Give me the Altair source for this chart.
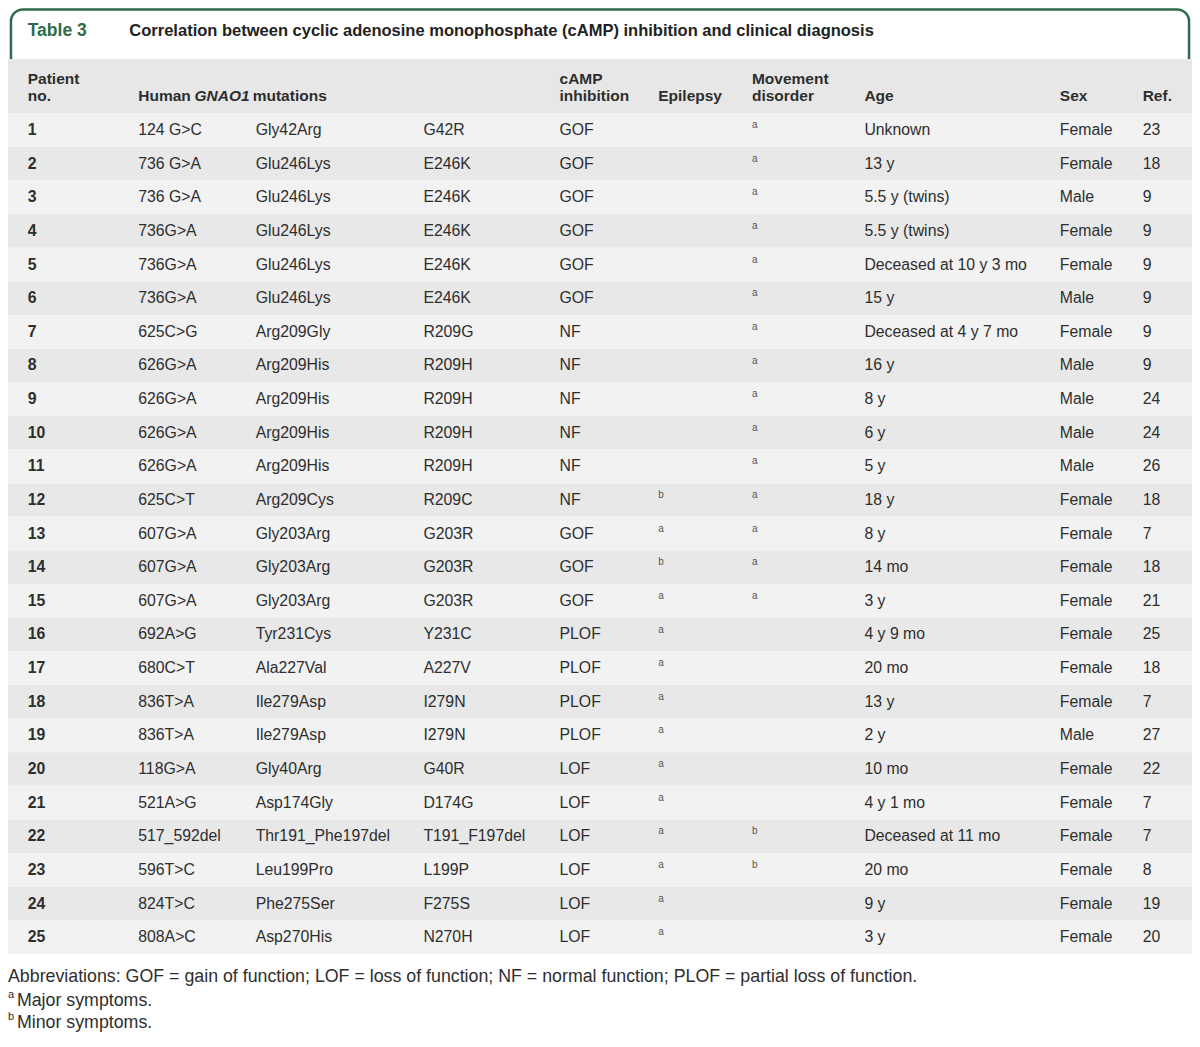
import altair as alt
import pandas as pd

# ---------------- data ----------------
patient_no = ["1", "2", "3", "4", "5", "6", "7", "8", "9", "10", "11", "12", "13",
              "14", "15", "16", "17", "18", "19", "20", "21", "22", "23", "24", "25"]
cdna = ["124 G>C", "736 G>A", "736 G>A", "736G>A", "736G>A", "736G>A", "625C>G",
        "626G>A", "626G>A", "626G>A", "626G>A", "625C>T", "607G>A", "607G>A",
        "607G>A", "692A>G", "680C>T", "836T>A", "836T>A", "118G>A", "521A>G",
        "517_592del", "596T>C", "824T>C", "808A>C"]
protein = ["Gly42Arg", "Glu246Lys", "Glu246Lys", "Glu246Lys", "Glu246Lys", "Glu246Lys",
           "Arg209Gly", "Arg209His", "Arg209His", "Arg209His", "Arg209His", "Arg209Cys",
           "Gly203Arg", "Gly203Arg", "Gly203Arg", "Tyr231Cys", "Ala227Val", "Ile279Asp",
           "Ile279Asp", "Gly40Arg", "Asp174Gly", "Thr191_Phe197del", "Leu199Pro",
           "Phe275Ser", "Asp270His"]
short = ["G42R", "E246K", "E246K", "E246K", "E246K", "E246K", "R209G", "R209H", "R209H",
         "R209H", "R209H", "R209C", "G203R", "G203R", "G203R", "Y231C", "A227V", "I279N",
         "I279N", "G40R", "D174G", "T191_F197del", "L199P", "F275S", "N270H"]
camp = ["GOF", "GOF", "GOF", "GOF", "GOF", "GOF", "NF", "NF", "NF", "NF", "NF", "NF",
        "GOF", "GOF", "GOF", "PLOF", "PLOF", "PLOF", "PLOF", "LOF", "LOF", "LOF", "LOF",
        "LOF", "LOF"]
epilepsy = ["", "", "", "", "", "", "", "", "", "", "", "b", "a", "b", "a", "a", "a",
            "a", "a", "a", "a", "a", "a", "a", "a"]
movement = ["a", "a", "a", "a", "a", "a", "a", "a", "a", "a", "a", "a", "a", "a", "a",
            "", "", "", "", "", "", "b", "b", "", ""]
age = ["Unknown", "13 y", "5.5 y (twins)", "5.5 y (twins)", "Deceased at 10 y 3 mo",
       "15 y", "Deceased at 4 y 7 mo", "16 y", "8 y", "6 y", "5 y", "18 y", "8 y",
       "14 mo", "3 y", "4 y 9 mo", "20 mo", "13 y", "2 y", "10 mo", "4 y 1 mo",
       "Deceased at 11 mo", "20 mo", "9 y", "3 y"]
sex = ["Female", "Female", "Male", "Female", "Female", "Male", "Female", "Male", "Male",
       "Male", "Male", "Female", "Female", "Female", "Female", "Female", "Female",
       "Female", "Male", "Female", "Female", "Female", "Female", "Female", "Female"]
ref = ["23", "18", "9", "9", "9", "9", "9", "9", "24", "24", "26", "18", "7", "18",
       "21", "25", "18", "7", "27", "22", "7", "7", "8", "19", "20"]

table_label = "Table 3"
title_text = "Correlation between cyclic adenosine monophosphate (cAMP) inhibition and clinical diagnosis"
footnote_abbrev = ("Abbreviations: GOF = gain of function; LOF = loss of function; "
                   "NF = normal function; PLOF = partial loss of function.")
footnote_a = "Major symptoms."
footnote_b = "Minor symptoms."

# ---------------- layout (reference pixel space) ----------------
REF_W, REF_H = 1200, 1047
W, H = 1184, 1025
FONT = "Liberation Sans"
GREEN = "#2f6b4a"
TEXT = "#2e2e2e"

col_x = {"no": 20, "cdna": 132, "prot": 251, "short": 421, "camp": 559,
         "epi": 659, "mov": 754, "age": 868, "sex": 1066, "ref": 1150}
row_top0 = 107.5
row_h = 34.35
header_top = 52
n_rows = len(patient_no)

xs = alt.Scale(domain=[0, REF_W], nice=False, zero=False)
ys = alt.Scale(domain=[0, REF_H], nice=False, zero=False, reverse=True)

def X(f="x"):
    return alt.X(f"{f}:Q", scale=xs, axis=None)

def Y(f="y"):
    return alt.Y(f"{f}:Q", scale=ys, axis=None)

# title box
box = pd.DataFrame([{"x": 3, "x2": 1197, "y": 1.5, "y2": 80}])
box_layer = alt.Chart(box).mark_rect(
    fill="white", stroke=GREEN, strokeWidth=2.5,
    cornerRadiusTopLeft=12, cornerRadiusTopRight=12
).encode(x=X(), x2="x2:Q", y=Y(), y2="y2:Q")

# header band
hb = pd.DataFrame([{"x": 0, "x2": REF_W, "y": header_top, "y2": row_top0}])
hb_layer = alt.Chart(hb).mark_rect(fill="#e6e7e6").encode(
    x=X(), x2="x2:Q", y=Y(), y2="y2:Q")

# row bands
bands = pd.DataFrame({
    "x": 0, "x2": REF_W,
    "y": [row_top0 + i * row_h for i in range(n_rows)],
    "y2": [row_top0 + (i + 1) * row_h for i in range(n_rows)],
    "parity": ["odd" if i % 2 == 0 else "even" for i in range(n_rows)],
})
band_layer = alt.Chart(bands).mark_rect().encode(
    x=X(), x2="x2:Q", y=Y(), y2="y2:Q",
    color=alt.Color("parity:N", scale=alt.Scale(domain=["odd", "even"],
                                                range=["#f2f2f2", "#e7e8e7"]),
                    legend=None))

# title texts
title_df = pd.DataFrame([
    {"x": 20, "y": 23.5, "t": table_label, "c": GREEN, "fs": 17.5},
    {"x": 123, "y": 23.5, "t": title_text, "c": "#222222", "fs": 16.5},
])
title_layer = alt.Chart(title_df).mark_text(
    align="left", baseline="middle", font=FONT, fontWeight="bold"
).encode(x=X(), y=Y(), text="t:N", color=alt.Color("c:N", scale=None),
         size=alt.Size("fs:Q", scale=None))

# header texts
hdr = pd.DataFrame([
    {"x": col_x["no"], "y": 73, "t": "Patient", "s": "normal"},
    {"x": col_x["no"], "y": 90, "t": "no.", "s": "normal"},
    {"x": col_x["cdna"], "y": 90, "t": "Human", "s": "normal"},
    {"x": col_x["cdna"] + 57, "y": 90, "t": "GNAO1", "s": "italic"},
    {"x": col_x["cdna"] + 116, "y": 90, "t": "mutations", "s": "normal"},
    {"x": col_x["camp"], "y": 73, "t": "cAMP", "s": "normal"},
    {"x": col_x["camp"], "y": 90, "t": "inhibition", "s": "normal"},
    {"x": col_x["epi"], "y": 90, "t": "Epilepsy", "s": "normal"},
    {"x": col_x["mov"], "y": 73, "t": "Movement", "s": "normal"},
    {"x": col_x["mov"], "y": 90, "t": "disorder", "s": "normal"},
    {"x": col_x["age"], "y": 90, "t": "Age", "s": "normal"},
    {"x": col_x["sex"], "y": 90, "t": "Sex", "s": "normal"},
    {"x": col_x["ref"], "y": 90, "t": "Ref.", "s": "normal"},
])
hdr_n = alt.Chart(hdr[hdr.s == "normal"]).mark_text(
    align="left", baseline="middle", font=FONT, fontSize=15.5, fontWeight="bold", color=TEXT
).encode(x=X(), y=Y(), text="t:N")
hdr_i = alt.Chart(hdr[hdr.s == "italic"]).mark_text(
    align="left", baseline="middle", font=FONT, fontSize=15.5, fontWeight="bold",
    fontStyle="italic", color=TEXT
).encode(x=X(), y=Y(), text="t:N")

# cell texts
cells = []
for i in range(n_rows):
    yc = row_top0 + (i + 0.5) * row_h
    for key, vals in [("cdna", cdna), ("prot", protein), ("short", short), ("camp", camp),
                      ("age", age), ("sex", sex), ("ref", ref)]:
        cells.append({"x": col_x[key], "y": yc, "t": vals[i]})
cells_df = pd.DataFrame(cells)
cell_layer = alt.Chart(cells_df).mark_text(
    align="left", baseline="middle", font=FONT, fontSize=15.8, color=TEXT
).encode(x=X(), y=Y(), text="t:N")

no_df = pd.DataFrame({"x": col_x["no"],
                      "y": [row_top0 + (i + 0.5) * row_h for i in range(n_rows)],
                      "t": patient_no})
no_layer = alt.Chart(no_df).mark_text(
    align="left", baseline="middle", font=FONT, fontSize=15.8, fontWeight="bold", color=TEXT
).encode(x=X(), y=Y(), text="t:N")

sups = []
for i in range(n_rows):
    yc = row_top0 + (i + 0.5) * row_h - 5
    if epilepsy[i]:
        sups.append({"x": col_x["epi"], "y": yc, "t": epilepsy[i]})
    if movement[i]:
        sups.append({"x": col_x["mov"], "y": yc, "t": movement[i]})
sup_df = pd.DataFrame(sups)
sup_layer = alt.Chart(sup_df).mark_text(
    align="left", baseline="middle", font=FONT, fontSize=10, color="#555555"
).encode(x=X(), y=Y(), text="t:N")

# footnotes
foot = pd.DataFrame([
    {"x": 0, "y": 990, "t": footnote_abbrev},
    {"x": 9, "y": 1014, "t": footnote_a},
    {"x": 9, "y": 1037, "t": footnote_b},
])
foot_layer = alt.Chart(foot).mark_text(
    align="left", baseline="middle", font=FONT, fontSize=17.8, color=TEXT
).encode(x=X(), y=Y(), text="t:N")
fsup = pd.DataFrame([
    {"x": 0, "y": 1008, "t": "a"},
    {"x": 0, "y": 1031, "t": "b"},
])
fsup_layer = alt.Chart(fsup).mark_text(
    align="left", baseline="middle", font=FONT, fontSize=11, color=TEXT
).encode(x=X(), y=Y(), text="t:N")

chart = alt.layer(
    box_layer, hb_layer, band_layer, title_layer, hdr_n, hdr_i,
    cell_layer, no_layer, sup_layer, foot_layer, fsup_layer
).properties(width=W, height=H, padding=0, autosize="none").configure_view(stroke=None)

chart.save("out.html", embed_options={"renderer": "svg", "actions": False})
